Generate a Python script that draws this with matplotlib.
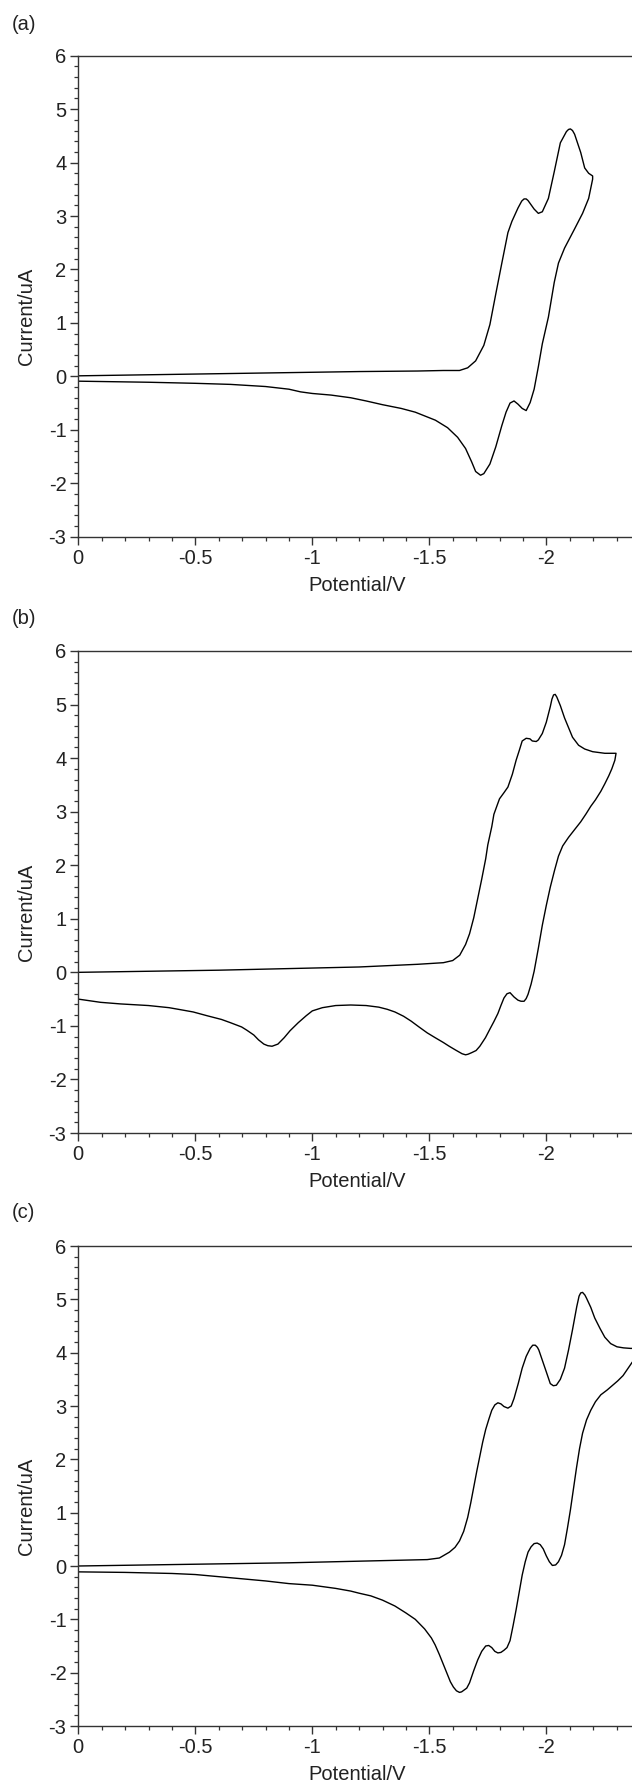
import matplotlib
matplotlib.use("Agg")
import matplotlib.pyplot as plt
from matplotlib.ticker import MultipleLocator, FuncFormatter

plt.rcParams['font.family'] = ['Liberation Sans', 'DejaVu Sans']
plt.rcParams['axes.unicode_minus'] = False

# ---------------- data (potential in V, current in uA) ----------------
panel_labels = ["(a)", "(b)", "(c)"]
x_label = "Potential/V"
y_label = "Current/uA"
x_ticks = [0, -0.5, -1, -1.5, -2]
y_ticks = [6, 5, 4, 3, 2, 1, 0, -1, -2, -3]

# (a) forward scan
a_fwd_v = [0, -0.3, -0.6, -0.9, -1.2, -1.45, -1.56, -1.629, -1.664, -1.698, -1.733, -1.759,
           -1.784, -1.81, -1.836, -1.853, -1.879, -1.895, -1.905, -1.914, -1.922, -1.948,
           -1.966, -1.983, -2.009, -2.034, -2.06, -2.086, -2.095, -2.103, -2.112, -2.121,
           -2.147, -2.164, -2.181, -2.198]
a_fwd_i = [0.01, 0.03, 0.05, 0.07, 0.09, 0.10, 0.11, 0.11, 0.16, 0.29, 0.58, 0.97,
           1.54, 2.12, 2.69, 2.90, 3.15, 3.28, 3.32, 3.32, 3.29, 3.13,
           3.05, 3.08, 3.33, 3.83, 4.37, 4.58, 4.62, 4.63, 4.60, 4.53,
           4.19, 3.90, 3.80, 3.75]
# (a) reverse scan
a_rev_v = [-2.198, -2.181, -2.155, -2.121, -2.078, -2.052, -2.034, -2.009, -1.983, -1.966,
           -1.948, -1.931, -1.914, -1.897, -1.879, -1.862, -1.845, -1.828, -1.81, -1.784,
           -1.759, -1.733, -1.719, -1.698, -1.681, -1.655, -1.621, -1.578, -1.526, -1.44,
           -1.38, -1.30, -1.23, -1.164, -1.08, -1.0, -0.95, -0.90, -0.80, -0.65, -0.5,
           -0.3, -0.15, 0]
a_rev_i = [3.69, 3.33, 3.05, 2.76, 2.40, 2.12, 1.76, 1.11, 0.61, 0.18,
           -0.24, -0.49, -0.64, -0.60, -0.52, -0.46, -0.50, -0.67, -0.92, -1.32,
           -1.64, -1.82, -1.85, -1.78, -1.60, -1.35, -1.14, -0.96, -0.82, -0.67,
           -0.60, -0.53, -0.46, -0.40, -0.35, -0.32, -0.29, -0.24, -0.19, -0.15, -0.13,
           -0.11, -0.10, -0.09]

# (b) forward scan
b_fwd_v = [0, -0.3, -0.6, -0.9, -1.2, -1.45, -1.56, -1.60, -1.63, -1.655, -1.672, -1.69,
           -1.707, -1.724, -1.741, -1.75, -1.767, -1.776, -1.79, -1.80, -1.82, -1.836,
           -1.855, -1.871, -1.885, -1.897, -1.914, -1.93, -1.94, -1.957, -1.966, -1.983,
           -2.0, -2.017, -2.024, -2.031, -2.038, -2.045, -2.06, -2.078, -2.095, -2.112,
           -2.138, -2.164, -2.198, -2.25, -2.298]
b_fwd_i = [0.0, 0.02, 0.04, 0.07, 0.10, 0.15, 0.18, 0.22, 0.32, 0.52, 0.72, 1.02,
           1.38, 1.74, 2.12, 2.38, 2.72, 2.95, 3.12, 3.24, 3.36, 3.46,
           3.70, 3.96, 4.15, 4.32, 4.37, 4.36, 4.32, 4.31, 4.34, 4.46,
           4.67, 4.96, 5.10, 5.18, 5.19, 5.14, 4.98, 4.75, 4.57, 4.39,
           4.24, 4.17, 4.12, 4.09, 4.09]
# (b) reverse scan
b_rev_v = [-2.298, -2.293, -2.28, -2.267, -2.25, -2.233, -2.21, -2.19, -2.17, -2.147,
           -2.12, -2.095, -2.07, -2.052, -2.035, -2.017, -2.0, -1.983, -1.966, -1.948,
           -1.935, -1.922, -1.914, -1.905, -1.892, -1.879, -1.862, -1.845, -1.832, -1.819,
           -1.806, -1.793, -1.776, -1.759, -1.74, -1.716, -1.70, -1.681, -1.665, -1.655,
           -1.64, -1.612, -1.585, -1.56, -1.525, -1.491, -1.456, -1.422, -1.39, -1.353,
           -1.32, -1.284, -1.23, -1.164, -1.10, -1.043, -1.0, -0.974, -0.94, -0.905,
           -0.88, -0.853, -0.828, -0.81, -0.793, -0.77, -0.75, -0.72, -0.698, -0.65,
           -0.612, -0.55, -0.491, -0.44, -0.388, -0.3, -0.181, -0.095, 0]
b_rev_i = [4.09, 3.96, 3.80, 3.67, 3.52, 3.38, 3.22, 3.10, 2.96, 2.81,
           2.66, 2.52, 2.36, 2.17, 1.90, 1.59, 1.25, 0.88, 0.45, 0.02,
           -0.22, -0.41, -0.49, -0.54, -0.54, -0.52, -0.46, -0.38, -0.40, -0.48,
           -0.62, -0.77, -0.92, -1.06, -1.22, -1.38, -1.46, -1.50, -1.53, -1.54,
           -1.52, -1.45, -1.38, -1.31, -1.22, -1.13, -1.02, -0.91, -0.82, -0.74,
           -0.69, -0.65, -0.62, -0.61, -0.62, -0.66, -0.72, -0.81, -0.94, -1.09,
           -1.22, -1.34, -1.38, -1.37, -1.34, -1.26, -1.17, -1.08, -1.02, -0.94,
           -0.88, -0.81, -0.74, -0.70, -0.66, -0.62, -0.59, -0.56, -0.50]

# (c) forward scan
c_fwd_v = [0, -0.3, -0.6, -0.9, -1.2, -1.40, -1.491, -1.543, -1.586, -1.61, -1.629, -1.647,
           -1.664, -1.677, -1.69, -1.703, -1.716, -1.728, -1.741, -1.755, -1.767, -1.78,
           -1.793, -1.806, -1.819, -1.836, -1.85, -1.862, -1.88, -1.897, -1.914, -1.931,
           -1.942, -1.953, -1.962, -1.968, -1.983, -2.0, -2.017, -2.03, -2.043, -2.06,
           -2.078, -2.095, -2.112, -2.13, -2.14, -2.147, -2.155, -2.165, -2.172, -2.19,
           -2.207, -2.23, -2.25, -2.275, -2.302, -2.33, -2.36, -2.40]
c_fwd_i = [0.0, 0.02, 0.04, 0.06, 0.09, 0.11, 0.12, 0.15, 0.26, 0.35, 0.47, 0.65,
           0.91, 1.18, 1.48, 1.78, 2.06, 2.32, 2.56, 2.76, 2.92, 3.02,
           3.06, 3.04, 2.99, 2.96, 3.00, 3.14, 3.42, 3.71, 3.93, 4.08,
           4.14, 4.14, 4.10, 4.05, 3.86, 3.64, 3.42, 3.38, 3.39, 3.50,
           3.71, 4.05, 4.43, 4.86, 5.06, 5.12, 5.13, 5.08, 5.02, 4.85,
           4.65, 4.45, 4.29, 4.17, 4.11, 4.09, 4.08, 4.08]
# (c) reverse scan
c_rev_v = [-2.40, -2.367, -2.345, -2.328, -2.305, -2.284, -2.26, -2.233, -2.21, -2.19,
           -2.172, -2.155, -2.142, -2.129, -2.116, -2.103, -2.09, -2.078, -2.065, -2.052,
           -2.04, -2.026, -2.013, -2.0, -1.987, -1.974, -1.961, -1.948, -1.935, -1.922,
           -1.91, -1.897, -1.884, -1.871, -1.858, -1.845, -1.832, -1.819, -1.806, -1.793,
           -1.78, -1.767, -1.754, -1.741, -1.724, -1.707, -1.69, -1.672, -1.66, -1.647,
           -1.638, -1.629, -1.616, -1.603, -1.59, -1.578, -1.56, -1.543, -1.525, -1.509,
           -1.48, -1.44, -1.40, -1.353, -1.30, -1.25, -1.20, -1.164, -1.10, -1.0,
           -0.90, -0.80, -0.70, -0.60, -0.50, -0.40, -0.20, 0]
c_rev_i = [3.95, 3.82, 3.68, 3.57, 3.47, 3.39, 3.30, 3.21, 3.08, 2.92,
           2.74, 2.49, 2.20, 1.84, 1.45, 1.05, 0.70, 0.40, 0.20, 0.08,
           0.02, 0.01, 0.08, 0.19, 0.32, 0.40, 0.43, 0.42, 0.36, 0.26,
           0.08, -0.17, -0.50, -0.82, -1.12, -1.40, -1.53, -1.58, -1.62, -1.63,
           -1.60, -1.53, -1.49, -1.50, -1.60, -1.76, -1.96, -2.19, -2.29, -2.33,
           -2.36, -2.37, -2.34, -2.27, -2.17, -2.04, -1.84, -1.66, -1.48, -1.35,
           -1.18, -1.00, -0.88, -0.75, -0.64, -0.56, -0.51, -0.47, -0.42, -0.36,
           -0.33, -0.28, -0.24, -0.20, -0.16, -0.14, -0.12, -0.11]

panels = [
    (a_fwd_v, a_fwd_i, a_rev_v, a_rev_i),
    (b_fwd_v, b_fwd_i, b_rev_v, b_rev_i),
    (c_fwd_v, c_fwd_i, c_rev_v, c_rev_i),
]

# ---------------- layout (pixels) ----------------
W, H = 632, 1782
fig = plt.figure(figsize=(W / 100, H / 100), dpi=100)
fig.patch.set_facecolor('white')

axes_left_px = 78.3
px_per_volt = 234.0
xlim = (0, -2.38)
axes_w_px = px_per_volt * (xlim[0] - xlim[1])
axes_tb_px = [(55.7, 536.7), (651.0, 1133.0), (1246.0, 1726.0)]
label_y_px = [24.0, 618.0, 1212.0]

spine_col = '#333333'
text_col = '#222222'
fs = 14.5


def fmt(v, pos):
    if abs(v) < 1e-9:
        return '0'
    return f'{v:g}'


for k, (fv, fi, rv, ri) in enumerate(panels):
    top, bot = axes_tb_px[k]
    ax = fig.add_axes([axes_left_px / W, 1 - bot / H, axes_w_px / W, (bot - top) / H])
    ax.plot(list(fv) + list(rv), list(fi) + list(ri), color='black', lw=1.0,
            solid_joinstyle='round', clip_on=True)
    ax.set_xlim(*xlim)
    ax.set_ylim(-3, 6)
    ax.set_xticks(x_ticks)
    ax.set_yticks(y_ticks)
    ax.xaxis.set_minor_locator(MultipleLocator(0.1))
    ax.yaxis.set_minor_locator(MultipleLocator(0.2))
    ax.xaxis.set_major_formatter(FuncFormatter(fmt))
    ax.yaxis.set_major_formatter(FuncFormatter(fmt))
    ax.tick_params(which='major', direction='out', length=6, width=1.0, color=spine_col,
                   labelsize=fs, labelcolor=text_col, pad=2.5)
    ax.tick_params(which='minor', direction='out', length=3, width=0.9, color=spine_col)
    ax.tick_params(top=False, right=False, which='both')
    for side in ['left', 'bottom', 'top']:
        ax.spines[side].set_color(spine_col)
        ax.spines[side].set_linewidth(1.0)
    ax.spines['right'].set_visible(False)

    ax.set_xlabel(x_label, fontsize=fs, color=text_col)
    ax.set_ylabel(y_label, fontsize=fs, color=text_col)
    h_px = bot - top
    ax.xaxis.set_label_coords(0.5, -39.0 / h_px)
    ax.yaxis.set_label_coords((36.0 - axes_left_px) / axes_w_px, 0.5 - 20.0 / h_px)

    fig.text(12 / W, 1 - label_y_px[k] / H, panel_labels[k], fontsize=fs, color=text_col,
             ha='left', va='center')

fig.savefig('out.png', dpi=100, facecolor='white')
